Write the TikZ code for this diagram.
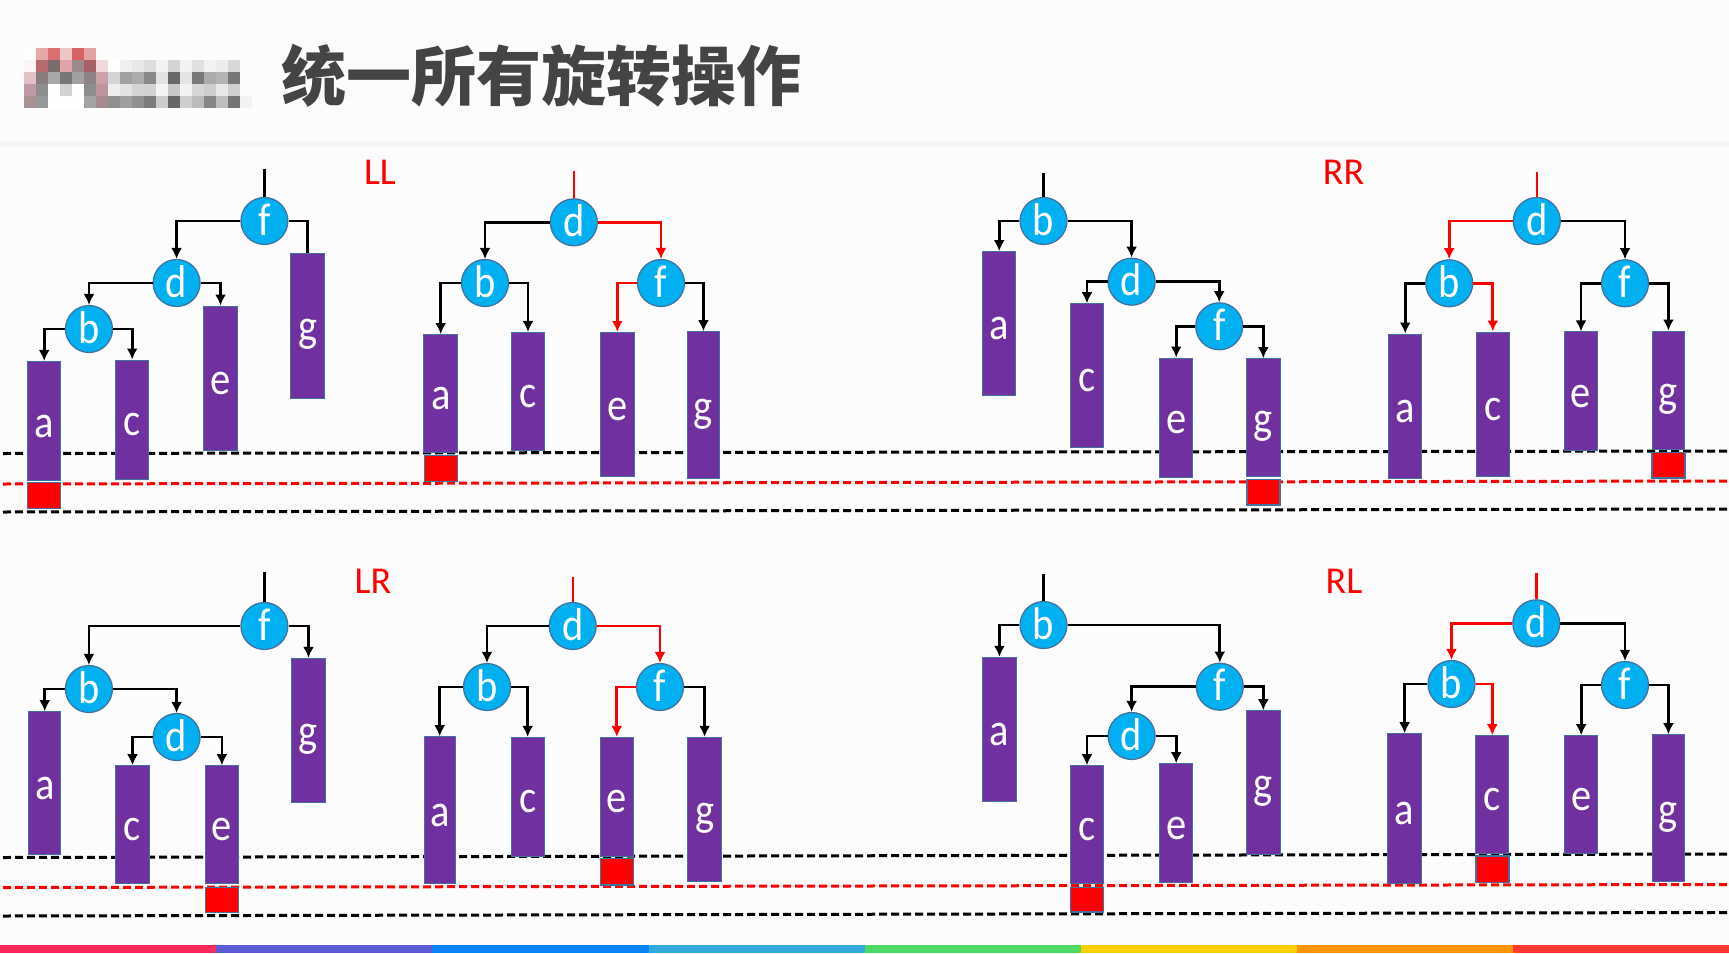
\documentclass[tikz,border=0pt]{standalone}
\usepackage{fontspec}
\usetikzlibrary{arrows.meta}
\setmainfont{Carlito}
\newfontfamily\letterfont[FakeStretch=0.88]{Carlito}
\newfontfamily\cjk{Noto Sans CJK SC}
\definecolor{barfill}{HTML}{7030A0}
\definecolor{nodefill}{HTML}{00B0F0}
\definecolor{edgeblue}{HTML}{41719C}
\definecolor{titlegray}{HTML}{444444}
\newcommand{\logorow}[2]{%
  \foreach \c [count=\i] in {#2} {%
    \definecolor{px}{HTML}{\c}%
    \fill[px] ({12+12*\i},#1) rectangle ({24+12*\i},#1+12);
  }%
}
\begin{document}
\begin{tikzpicture}[x=1pt,y=-1pt,
    treenode/.style={circle, draw=edgeblue, line width=1.2pt, fill=nodefill, text=white, minimum size=47pt, inner sep=0pt, text height=28pt, text depth=0pt, font=\letterfont\fontsize{46}{46}\selectfont},
    bar/.style={rectangle, draw=edgeblue, line width=1pt, fill=barfill, text=white, minimum width=33.5pt, inner sep=0pt, text height=32pt, text depth=0pt, font=\letterfont\fontsize{46}{46}\selectfont},
    overflow/.style={rectangle, draw=edgeblue, line width=1.4pt, fill=red, minimum width=33pt, inner sep=0pt},
    link/.style={line width=2.8pt,->,>={Latex[length=11pt,width=11pt]}},
    redlink/.style={link,red},
    linkplain/.style={line width=2.8pt},
    stem/.style={line width=2.4pt},
    level/.style={line width=3pt,dash pattern=on 8pt off 4pt},
    casename/.style={text=red, font=\fontsize{38}{38}\selectfont}]
  \useasboundingbox (0,0) rectangle (1729,953);
  \fill[white!99!black] (0,0) rectangle (1729,953);
  \fill[white!96!black] (0,141) rectangle (1729,146);

  % logo
  \logorow{48}{FEFEFE,E5A8A8,D96F6F,EFC6C6,D56363,E4A3A3}
  \logorow{60}{FCF5F4,B56A70,7A6C6C,DFA3A8,9A8A8C,A86068,EEDADA,FEFEFE,EFEFEF,E8E8E8,DDDDDD,F2F2F2,D4D4D4,F2F2F2,E0E0E0,F2F2F2,ECECEC,D8D8D8}
  \logorow{72}{E2C0C5,8A7C7E,A8A8A8,777777,A0A0A0,8F8285,CAA2A8,D4D4D4,A0A0A0,ABABAB,888888,E2E2E2,686868,E4E4E4,787878,ABABAB,B4B4B4,777777}
  \logorow{84}{BE98A2,8E8E8E,FEFEFE,D2D2D4,FEFEFE,8E8E90,BC949C,EEEEEE,E2E2E2,D4D4D4,D2D2D2,F4F4F4,C8C8C8,F2F2F2,D6D6D6,CECECE,E8E8E8,CFCFCF}
  \logorow{96}{AA9294,96989A,FEFEFE,FEFEFE,FEFEFE,A4A4A4,A68A8E,8F8F8F,9E9E9E,909090,7C7C7C,CCCCCC,666666,CECECE,BBBBBB,868686,BDBDBD,757575,F2F2F2}

  \node[anchor=center, text=titlegray, font=\cjk\bfseries\fontsize{65}{65}\selectfont] (title) at (541,76) {统一所有旋转操作};

  % bottom strip
  \foreach \c [count=\i] in {FC2B5E,5B5BD6,0A84FF,34AADC,4CD964,FFCC00,FF9500,FF3B30} {
    \definecolor{strip}{HTML}{\c}
    \fill[strip] ({(\i-1)*216.2},945) rectangle ({\i*216.2},953);
  }

  % levels
  \coordinate (topL) at (3,453.5);    \coordinate (topR) at (1729,451);
  \coordinate (midL) at (3,484);      \coordinate (midR) at (1729,481);
  \coordinate (lowL) at (3,512);      \coordinate (lowR) at (1729,509);
  \coordinate (topLb) at (3,857.5);   \coordinate (topRb) at (1729,854);
  \coordinate (midLb) at (3,887.5);   \coordinate (midRb) at (1729,884.5);
  \coordinate (lowLb) at (3,916);     \coordinate (lowRb) at (1729,912.5);
  \draw[level] (topL) -- (topR);
  \draw[level,red] (midL) -- (midR);
  \draw[level] (lowL) -- (lowR);
  \draw[level] (topLb) -- (topRb);
  \draw[level,red] (midLb) -- (midRb);
  \draw[level] (lowLb) -- (lowRb);

  % LL
  \node[casename] (LLname) at (380,172) {LL};
  \node[treenode] (LLf) at (264.4,221) {f};
  \node[treenode] (LLd) at (176.6,283) {d};
  \node[treenode] (LLb) at (89,329) {b};
  \node[bar,minimum height=119.5pt] (LLa) at (44.2,421.2) {a};
  \node[bar,minimum height=119pt] (LLc) at (132.2,419.5) {c};
  \node[bar,minimum height=144pt] (LLe) at (220.5,378) {e};
  \node[bar,minimum height=145pt] (LLg) at (307.7,325.5) {g};
  \node[overflow,minimum height=26pt] (LLx) at (44.2,495.2) {};
  \coordinate (LLtop) at (264.4,169);
  \draw[stem] (LLtop) -- (LLf);
  \draw[link] (LLf.west) -| (LLd.north);
  \draw[linkplain] (LLf.east) -| (LLg.north);
  \draw[link] (LLd.west) -| (LLb.north);
  \draw[link] (LLd.east) -| (LLe.north);
  \draw[link] (LLb.west) -| (LLa.north);
  \draw[link] (LLb.east) -| (LLc.north);

  \node[treenode] (LLnd) at (573.8,222.3) {d};
  \node[treenode] (LLnb) at (485,283) {b};
  \node[treenode] (LLnf) at (661,283) {f};
  \node[bar,minimum height=118pt] (LLna) at (440.7,393.6) {a};
  \node[bar,minimum height=118pt] (LLnc) at (528,391.4) {c};
  \node[bar,minimum height=144pt] (LLne) at (617.3,404.5) {e};
  \node[bar,minimum height=147pt,minimum width=32.7pt] (LLng) at (703.4,405.2) {g};
  \node[overflow,minimum height=26pt] (LLnx) at (440.7,468.4) {};
  \coordinate (LLntop) at (573.8,170.6);
  \draw[stem,red] (LLntop) -- (LLnd);
  \draw[link] (LLnd.west) -| (LLnb.north);
  \draw[redlink] (LLnd.east) -| (LLnf.north);
  \draw[link] (LLnb.west) -| (LLna.north);
  \draw[link] (LLnb.east) -| (LLnc.north);
  \draw[redlink] (LLnf.west) -| (LLne.north);
  \draw[link] (LLnf.east) -| (LLng.north);

  % RR
  \node[casename] (RRname) at (1343.5,172) {RR};
  \node[treenode] (RRb) at (1043.5,221) {b};
  \node[treenode] (RRd) at (1131.6,281.7) {d};
  \node[treenode] (RRf) at (1219.2,326.3) {f};
  \node[bar,minimum height=144.3pt] (RRa) at (999.2,323.8) {a};
  \node[bar,minimum height=144pt] (RRc) at (1087,375.7) {c};
  \node[bar,minimum height=119pt] (RRe) at (1176.2,417.5) {e};
  \node[bar,minimum height=118.3pt] (RRg) at (1263.3,417.8) {g};
  \node[overflow,minimum height=25.7pt] (RRx) at (1263.3,492.2) {};
  \coordinate (RRtop) at (1043.5,172.7);
  \draw[stem] (RRtop) -- (RRb);
  \draw[link] (RRb.west) -| (RRa.north);
  \draw[link] (RRb.east) -| (RRd.north);
  \draw[link] (RRd.west) -| (RRc.north);
  \draw[link] (RRd.east) -| (RRf.north);
  \draw[link] (RRf.west) -| (RRe.north);
  \draw[link] (RRf.east) -| (RRg.north);

  \node[treenode] (RRnd) at (1536.8,221) {d};
  \node[treenode] (RRnb) at (1449.2,283.3) {b};
  \node[treenode] (RRnf) at (1625,283.3) {f};
  \node[bar,minimum height=144pt,minimum width=32.7pt] (RRna) at (1405.2,406) {a};
  \node[bar,minimum height=144pt] (RRnc) at (1492.8,404) {c};
  \node[bar,minimum height=118.7pt] (RRne) at (1581,391.3) {e};
  \node[bar,minimum height=118.3pt,minimum width=32.8pt] (RRng) at (1668.4,390.2) {g};
  \node[overflow,minimum height=25.3pt] (RRnx) at (1668.4,465.4) {};
  \coordinate (RRntop) at (1536.8,171.7);
  \draw[stem,red] (RRntop) -- (RRnd);
  \draw[redlink] (RRnd.west) -| (RRnb.north);
  \draw[link] (RRnd.east) -| (RRnf.north);
  \draw[link] (RRnb.west) -| (RRna.north);
  \draw[redlink] (RRnb.east) -| (RRnc.north);
  \draw[link] (RRnf.west) -| (RRne.north);
  \draw[link] (RRnf.east) -| (RRng.north);

  % LR
  \node[casename] (LRname) at (373,581.7) {LR};
  \node[treenode] (LRf) at (264.4,626) {f};
  \node[treenode] (LRb) at (88.9,689) {b};
  \node[treenode] (LRd) at (176.6,737) {d};
  \node[bar,minimum height=143.3pt,minimum width=32.4pt] (LRa) at (44.7,783.3) {a};
  \node[bar,minimum height=117.6pt] (LRc) at (132.5,824.5) {c};
  \node[bar,minimum height=117.6pt] (LRe) at (221.9,824.5) {e};
  \node[bar,minimum height=144.4pt] (LRg) at (308.5,730.5) {g};
  \node[overflow,minimum height=25.4pt] (LRx) at (221.9,900) {};
  \coordinate (LRtop) at (264.4,572.3);
  \draw[stem] (LRtop) -- (LRf);
  \draw[link] (LRf.west) -| (LRb.north);
  \draw[link] (LRf.east) -| (LRg.north);
  \draw[link] (LRb.west) -| (LRa.north);
  \draw[link] (LRb.east) -| (LRd.north);
  \draw[link] (LRd.west) -| (LRc.north);
  \draw[link] (LRd.east) -| (LRe.north);

  \node[treenode] (LRnd) at (572.7,626) {d};
  \node[treenode] (LRnb) at (487,687) {b};
  \node[treenode] (LRnf) at (660,687) {f};
  \node[bar,minimum height=146.6pt,minimum width=31.3pt] (LRna) at (439.7,810) {a};
  \node[bar,minimum height=118.7pt,minimum width=33pt] (LRnc) at (527.7,796.7) {c};
  \node[bar,minimum height=118.7pt] (LRne) at (616.8,796.7) {e};
  \node[bar,minimum height=144.4pt] (LRng) at (704.6,809.5) {g};
  \node[overflow,minimum height=26.7pt] (LRnx) at (616.8,871.7) {};
  \coordinate (LRntop) at (572.7,576.7);
  \draw[stem,red] (LRntop) -- (LRnd);
  \draw[link] (LRnd.west) -| (LRnb.north);
  \draw[redlink] (LRnd.east) -| (LRnf.north);
  \draw[link] (LRnb.west) -| (LRna.north);
  \draw[link] (LRnb.east) -| (LRnc.north);
  \draw[redlink] (LRnf.west) -| (LRne.north);
  \draw[link] (LRnf.east) -| (LRng.north);

  % RL
  \node[casename] (RLname) at (1344,581.7) {RL};
  \node[treenode] (RLb) at (1043.5,625) {b};
  \node[treenode] (RLf) at (1219.8,686.7) {f};
  \node[treenode] (RLd) at (1131.6,736) {d};
  \node[bar,minimum height=144.4pt] (RLa) at (999.4,729.5) {a};
  \node[bar,minimum height=117.6pt] (RLc) at (1087,824.5) {c};
  \node[bar,minimum height=119pt] (RLe) at (1176.2,823.2) {e};
  \node[bar,minimum height=143.6pt] (RLg) at (1263.3,782.5) {g};
  \node[overflow,minimum height=24.7pt] (RLx) at (1087,899.7) {};
  \coordinate (RLtop) at (1043.5,574.3);
  \draw[stem] (RLtop) -- (RLb);
  \draw[link] (RLb.west) -| (RLa.north);
  \draw[link] (RLb.east) -| (RLf.north);
  \draw[link] (RLf.west) -| (RLd.north);
  \draw[link] (RLf.east) -| (RLg.north);
  \draw[link] (RLd.west) -| (RLc.north);
  \draw[link] (RLd.east) -| (RLe.north);

  \node[treenode] (RLnd) at (1536.3,623.3) {d};
  \node[treenode] (RLnb) at (1451.5,684) {b};
  \node[treenode] (RLnf) at (1625,685) {f};
  \node[bar,minimum height=149.6pt] (RLna) at (1404.6,808.5) {a};
  \node[bar,minimum height=117.6pt,minimum width=32.7pt] (RLnc) at (1492.3,794.5) {c};
  \node[bar,minimum height=117.6pt] (RLne) at (1581.2,794.5) {e};
  \node[bar,minimum height=147pt,minimum width=32.8pt] (RLng) at (1668.4,808.2) {g};
  \node[overflow,minimum height=26.3pt] (RLnx) at (1492.3,869.2) {};
  \coordinate (RLntop) at (1536.3,573.3);
  \draw[stem,red] (RLntop) -- (RLnd);
  \draw[redlink] (RLnd.west) -| (RLnb.north);
  \draw[link] (RLnd.east) -| (RLnf.north);
  \draw[link] (RLnb.west) -| (RLna.north);
  \draw[redlink] (RLnb.east) -| (RLnc.north);
  \draw[link] (RLnf.west) -| (RLne.north);
  \draw[link] (RLnf.east) -| (RLng.north);
\end{tikzpicture}
\end{document}
